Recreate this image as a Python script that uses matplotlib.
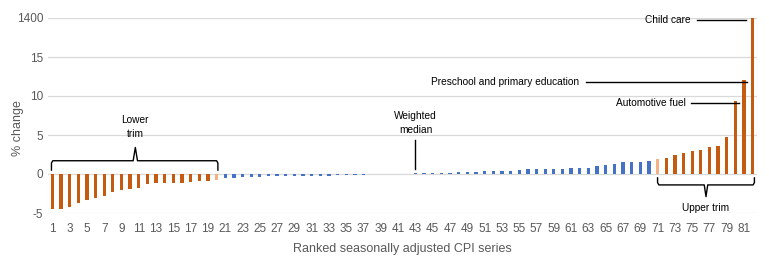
import numpy as np
import matplotlib.pyplot as plt

plt.rcParams['font.family'] = ['Liberation Sans', 'DejaVu Sans']

# Ranked CPI series, % change
rank = list(range(1, 83))
pct_change = [-4.5, -4.45, -4.2, -3.7, -3.3, -3.1, -2.8, -2.3, -2.0, -1.9,
              -1.75, -1.25, -1.1, -1.1, -1.1, -1.1, -1.0, -0.85, -0.85, -0.73,
              -0.55, -0.55, -0.43, -0.43, -0.43, -0.3, -0.3, -0.3, -0.3, -0.3,
              -0.3, -0.3, -0.3, -0.17, -0.17, -0.17, -0.17, 0, 0, 0,
              0, 0, 0.15, 0.15, 0.15, 0.15, 0.15, 0.28, 0.28, 0.28,
              0.4, 0.4, 0.4, 0.4, 0.5, 0.64, 0.64, 0.64, 0.64, 0.64,
              0.77, 0.77, 0.77, 1.03, 1.15, 1.28, 1.54, 1.54, 1.54, 1.67,
              1.92, 2.05, 2.44, 2.69, 2.95, 3.08, 3.46, 3.59, 4.74, 9.4,
              12.1, 1400]
# trimmed / boundary / core
group = ['trim'] * 19 + ['edge'] + ['core'] * 50 + ['edge'] + ['trim'] * 11

yticks = [-5, 0, 5, 10, 15, 1400]
labelled = {80: 'Automotive fuel', 81: 'Preschool and primary education', 82: 'Child care'}

colors = {'trim': '#C55A11', 'edge': '#F4B183', 'core': '#4472C4'}


# broken axis: linear up to 15, then compressed up to 1400
def fwd(y):
    y = np.asarray(y, dtype=float)
    return np.where(y <= 15, y, 15 + (y - 15) * 5 / 1385)


def inv(y):
    y = np.asarray(y, dtype=float)
    return np.where(y <= 15, y, 15 + (y - 15) * 1385 / 5)


fig = plt.figure(figsize=(7.69, 2.61), dpi=100)
ax = fig.add_axes([48 / 769, 1 - 213 / 261, 709 / 769, 195 / 261])
ax.set_yscale('function', functions=(fwd, inv))

ax.bar(rank, pct_change, width=0.38, color=[colors[g] for g in group], zorder=3)

ax.set_xlim(0.5, 82.5)
ax.set_ylim(-5, 1400)
ax.set_yticks(yticks)
ax.set_yticklabels([str(t) for t in yticks])
ax.set_xticks(rank[::2])
ax.tick_params(length=0, labelsize=8.5, labelcolor='#595959')
ax.tick_params(axis='x', pad=7)
ax.grid(axis='y', color='#D9D9D9', linewidth=0.9, zorder=0)
for s in ax.spines.values():
    s.set_visible(False)

fig.text(18 / 769, 1 - 128 / 261, '% change', rotation=90, ha='center', va='center',
         fontsize=9, color='#595959')
ax.set_xlabel('Ranked seasonally adjusted CPI series', fontsize=9, color='#595959', labelpad=6)

# lower trim brace
bx = [0.9, 0.9, 1.05, 10.35, 10.6, 10.85, 20.0, 20.15, 20.15]
by = [0.5, 1.4, 1.7, 1.7, 3.4, 1.7, 1.7, 1.4, 0.5]
ax.plot(bx, by, color='black', lw=1.0, zorder=4)
ax.text(10.6, 6.0, 'Lower\ntrim', ha='center', va='center', fontsize=7.3, linespacing=1.5)

# upper trim brace
ux = [71.0, 71.0, 71.15, 76.4, 76.6, 76.8, 82.05, 82.2, 82.2]
uy = [-0.5, -1.1, -1.4, -1.4, -2.9, -1.4, -1.4, -1.1, -0.5]
ax.plot(ux, uy, color='black', lw=1.0, zorder=4)
ax.text(76.6, -4.4, 'Upper trim', ha='center', va='center', fontsize=7.3)

# weighted median
ax.plot([43, 43], [0.65, 4.4], color='black', lw=1.0, zorder=4)
ax.text(43, 6.5, 'Weighted\nmedian', ha='center', va='center', fontsize=7.3, linespacing=1.5)

# named series
tr = ax.get_xaxis_transform()
label_pos = {80: (74.3, 74.9, 80.4, 0.564), 81: (61.9, 62.7, 81.3, 0.672), 82: (74.8, 75.6, 81.2, 0.99)}
for k, name in labelled.items():
    tx, x0, x1, yy = label_pos[k]
    ax.text(tx, yy, name, transform=tr, ha='right', va='center', fontsize=7.3)
    ax.plot([x0, x1], [yy, yy], transform=tr, color='black', lw=1.0, zorder=4)

fig.savefig('out.png', dpi=100)
